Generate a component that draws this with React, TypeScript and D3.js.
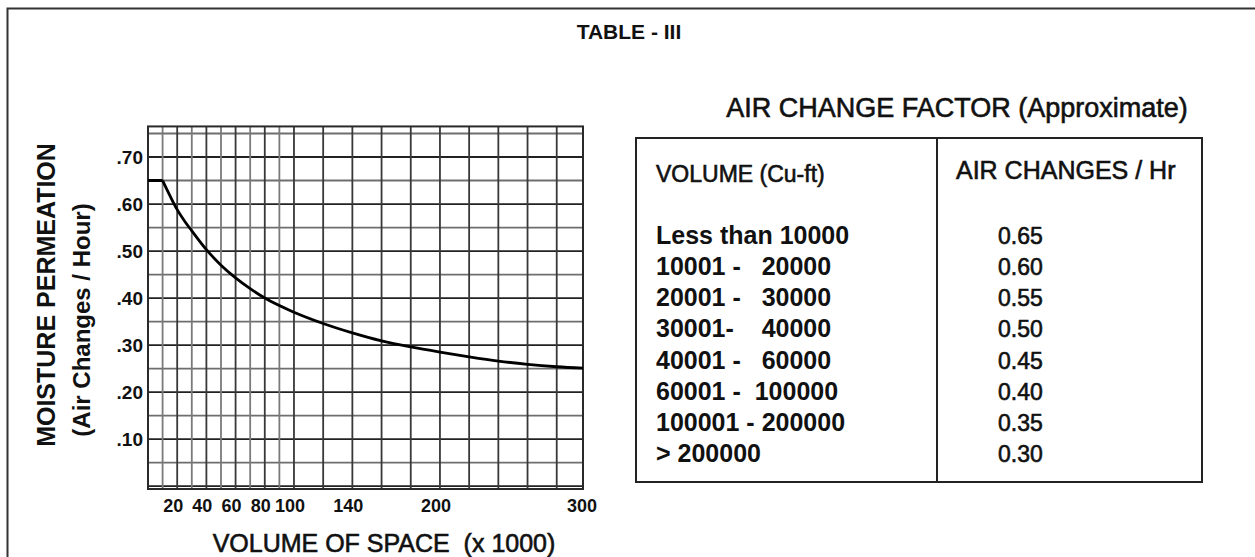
import * as d3 from "d3";

// curve (volume in thousands cu-ft, air changes / hour)
const curveVolume = [0, 10, 15, 20, 25, 30, 40, 50, 60, 70, 80, 100, 120, 140, 160, 180, 200, 220, 240, 260, 280, 298];
const curveRate = [0.65, 0.65, 0.618, 0.588, 0.564, 0.543, 0.503, 0.47, 0.443, 0.42, 0.4, 0.37, 0.346, 0.326, 0.309, 0.296, 0.285, 0.275, 0.266, 0.259, 0.254, 0.251];

const xTickValues = [20, 40, 60, 80, 100, 140, 200, 300];
const yTickValues = [0.1, 0.2, 0.3, 0.4, 0.5, 0.6, 0.7];
const yTickLabels = [".10", ".20", ".30", ".40", ".50", ".60", ".70"];

// grid lines (paper): every 10 up to 100, then every 20
const vGridFine = [10, 20, 30, 40, 50, 60, 70, 80, 90, 100];
const vGridCoarse = [120, 140, 160, 180, 200, 220, 240, 260, 280];
const hGrid = [0, 0.05, 0.1, 0.15, 0.2, 0.25, 0.3, 0.35, 0.4, 0.45, 0.5, 0.55, 0.6, 0.65, 0.7, 0.75];

const tableRanges = [
  "Less than 10000",
  "10001 -   20000",
  "20001 -   30000",
  "30001-    40000",
  "40001 -   60000",
  "60001 -  100000",
  "100001 - 200000",
  "> 200000",
];
const tableRates = ["0.65", "0.60", "0.55", "0.50", "0.45", "0.40", "0.35", "0.30"];

const W = 1255;
const H = 557;
const font = "'Liberation Sans', Arial, sans-serif";

export default function App() {
  const xMax = 298;
  const yMin = -0.006;
  const yMax = 0.765;

  const x = d3.scaleLinear().domain([0, xMax]).range([148, 583]);
  const y = d3.scaleLinear().domain([yMin, 0.7]).range([489, 157]);

  const pts: [number, number][] = curveVolume.map((v, i) => [v, curveRate[i]]);
  // flat part up to 10k is straight, the rest is a smooth decay
  const flat = d3
    .line<[number, number]>()
    .x((d) => x(d[0]))
    .y((d) => y(d[1]))(pts.slice(0, 2));
  const decay = d3
    .line<[number, number]>()
    .x((d) => x(d[0]))
    .y((d) => y(d[1]))
    .curve(d3.curveMonotoneX)(pts.slice(1));

  const rowY = d3.scalePoint<string>().domain(tableRanges).range([244, 462]);

  const tx = { left: 636, right: 1202, top: 138, bottom: 482, split: 937 };

  return (
    <svg
      width={W}
      height={H}
      style={{ position: "absolute", left: 0, top: 0, background: "#fff" }}
      fontFamily={font}
    >
      {/* outer frame, only top and left visible */}
      <path d={`M7.5,${H + 5} V8.5 H${W + 5}`} fill="none" stroke="#333" strokeWidth={2} />

      <text x={629} y={39} textAnchor="middle" fontSize={21} fontWeight="bold" fill="#111">
        TABLE - III
      </text>

      {/* grid */}
      <g>
        {hGrid.map((v) => {
          const major = Math.abs(v * 10 - Math.round(v * 10)) < 1e-6;
          return (
            <line
              key={"h" + v}
              x1={x(0)}
              x2={x(xMax)}
              y1={y(v)}
              y2={y(v)}
              stroke={major ? "#222" : "#6e6e6e"}
              strokeWidth={1.8}
            />
          );
        })}
        {vGridFine.map((v) => (
          <line
            key={"vf" + v}
            x1={x(v)}
            x2={x(v)}
            y1={y(yMin)}
            y2={y(yMax)}
            stroke={v % 20 === 0 ? "#383838" : "#7a7a7a"}
            strokeWidth={1.8}
          />
        ))}
        {vGridCoarse.map((v) => (
          <line key={"vc" + v} x1={x(v)} x2={x(v)} y1={y(yMin)} y2={y(yMax)} stroke="#383838" strokeWidth={1.8} />
        ))}
        <rect
          x={x(0)}
          y={y(yMax)}
          width={x(xMax) - x(0)}
          height={y(yMin) - y(yMax)}
          fill="none"
          stroke="#2a2a2a"
          strokeWidth={2}
        />
      </g>

      {/* curve */}
      <path d={(flat || "") + (decay || "")} fill="none" stroke="#000" strokeWidth={2.8} strokeLinejoin="round" />

      {/* y ticks */}
      {yTickValues.map((v, i) => (
        <text key={"yt" + v} x={143} y={y(v)} dy="0.35em" textAnchor="end" fontSize={19} fontWeight="bold" fill="#111">
          {yTickLabels[i]}
        </text>
      ))}

      {/* x ticks */}
      {xTickValues.map((v) => (
        <text key={"xt" + v} x={x(v)} dx={-4} y={512} textAnchor="middle" fontSize={18} fontWeight="bold" fill="#111">
          {v}
        </text>
      ))}

      {/* axis titles */}
      <text
        transform="translate(55,295) rotate(-90)"
        textAnchor="middle"
        fontSize={25}
        fontWeight="bold"
        fill="#111"
      >
        MOISTURE PERMEATION
      </text>
      <text
        transform="translate(90,320) rotate(-90)"
        textAnchor="middle"
        fontSize={24}
        fontWeight="bold"
        fill="#111"
      >
        (Air Changes / Hour)
      </text>
      <text
        x={384}
        y={552}
        textAnchor="middle"
        fontSize={25}
        fill="#111"
        stroke="#111"
        strokeWidth={0.6}
        style={{ whiteSpace: "pre" }}
      >
        {"VOLUME OF SPACE  (x 1000)"}
      </text>

      {/* table */}
      <text x={957} y={117} textAnchor="middle" fontSize={27} fill="#111" stroke="#111" strokeWidth={0.6}>
        AIR CHANGE FACTOR (Approximate)
      </text>
      <rect
        x={tx.left}
        y={tx.top}
        width={tx.right - tx.left}
        height={tx.bottom - tx.top}
        fill="none"
        stroke="#222"
        strokeWidth={2}
      />
      <line x1={tx.split} x2={tx.split} y1={tx.top} y2={tx.bottom} stroke="#222" strokeWidth={2} />
      <text x={656} y={182} fontSize={23} fill="#111" stroke="#111" strokeWidth={0.6}>
        VOLUME (Cu-ft)
      </text>
      <text x={956} y={179} fontSize={25} fill="#111" stroke="#111" strokeWidth={0.6}>
        AIR CHANGES / Hr
      </text>
      {tableRanges.map((r, i) => (
        <g key={r}>
          <text x={656} y={rowY(r)} fontSize={25} fontWeight="bold" fill="#111" style={{ whiteSpace: "pre" }}>
            {r}
          </text>
          <text x={998} y={rowY(r)} fontSize={23} fill="#111" stroke="#111" strokeWidth={0.6}>
            {tableRates[i]}
          </text>
        </g>
      ))}
    </svg>
  );
}
